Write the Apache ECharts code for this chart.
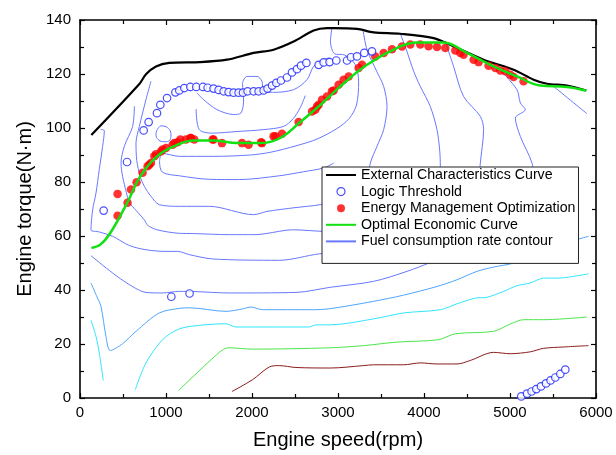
<!DOCTYPE html>
<html><head><meta charset="utf-8">
<script src="https://cdn.jsdelivr.net/npm/echarts@6/dist/echarts.min.js"></script>
<style>html,body{margin:0;padding:0;background:#fff}#c{width:616px;height:455px}</style>
</head><body><div id="c"></div><script>
// ---- axis settings ----
const xMin = 0, xMax = 6000, xStep = 1000;
const yMin = 0, yMax = 140, yStep = 20;
const xName = 'Engine speed(rpm)';
const yName = 'Engine torque(N·m)';
const legendNames = ['External Characteristics Curve','Logic Threshold','Energy Management Optimization','Optimal Economic Curve','Fuel consumption rate contour'];

// ---- main curves ----
const externalCurve = [[132,97.4],[690,116.3],[767,119.9],[883,122.8],[1038,124.1],[1399,124.4],[1709,125.3],[2019,127.8],[2251,129],[2484,132],[2716,136.1],[2872,137],[2949,137],[3221,136.7],[3414,135.4],[3724,134.9],[4112,133.3],[4344,130.2],[4693,125.3],[5042,121.6],[5275,117.9],[5430,116.4],[5663,115.7],[5887,113.9]];
const optimalCurve = [[132,55.6],[236,56.8],[352,61.1],[547,72.2],[701,82.1],[895,89.5],[1088,93.2],[1321,95.4],[1553,95.4],[1826,94.4],[2097,94.4],[2329,96.3],[2562,102.2],[2794,108.5],[3027,115.4],[3337,123.4],[3724,130.2],[3919,131.7],[4228,131.7],[4500,127.8],[4809,122.8],[5081,119.1],[5352,115.7],[5663,115.2],[5887,113.8]];
const energyOpt = [[437,67.5],[437,75.6],[553,72.3],[593,77.2],[658,79.9],[728,83.4],[786,85.8],[806,86.4],[825,87],[864,89.5],[883,90.3],[941,91.3],[960,92],[1000,92.6],[1077,93.8],[1097,94.4],[1135,94.7],[1166,95.7],[1232,95.7],[1283,96.3],[1291,96.3],[1329,95.7],[1542,95.7],[1553,95.7],[1651,94.4],[1884,94.4],[1960,93.8],[2105,94.7],[2116,94.4],[2251,96.9],[2271,96.9],[2349,97.9],[2542,102.2],[2698,106.1],[2736,106.8],[2756,108],[2775,108.6],[2814,110.5],[2872,111.7],[2930,113.6],[2949,113.9],[3007,116],[3065,117.9],[3124,119.1],[3240,122.2],[3279,123.4],[3434,126.5],[3531,127.8],[3628,129.2],[3744,130.2],[3841,130.9],[3957,130.9],[4053,130.3],[4151,130],[4248,129.6],[4364,128.7],[4422,127.8],[4460,127.1],[4577,125.3],[4635,124.4],[4751,123.1],[4829,122.2],[4887,121.3],[4945,121],[5003,119.7],[5042,118.9],[5158,117.3]];
const logicThreshold = [[275,69.4],[547,87.4],[740,99.1],[798,102.2],[895,105.5],[934,108.6],[1012,111.1],[1109,113.2],[1155,113.9],[1213,114.8],[1283,115.2],[1352,115.2],[1430,115.2],[1484,114.9],[1553,114.6],[1612,114.1],[1670,113.6],[1728,113.3],[1786,113.1],[1844,113.1],[1895,113.1],[1949,113.6],[2019,113.6],[2077,113.6],[2135,113.9],[2181,114.6],[2233,115.7],[2283,116.7],[2337,117.6],[2407,118.7],[2465,120.6],[2523,121.8],[2570,123.1],[2632,124.1],[2775,123.4],[2833,124.3],[2902,124.4],[2980,125],[3105,125],[3151,126.2],[3221,126.5],[3306,127.8],[3395,128.4],[1062,37.5],[1274,38.7],[5131,0.6],[5198,1.6],[5251,2.4],[5306,3.3],[5360,4.3],[5419,5.4],[5472,6.5],[5527,7.6],[5585,8.9],[5643,10.5]];

// ---- fuel consumption contours ----
const cB1 = [[240,99.5],[283,99],[263,93.2],[224,84.6],[186,75.9],[147,69.7],[128,62.3],[224,61.5],[379,59.9],[573,56.5],[767,54.9],[1000,54.3],[1135,54.3],[1271,53.1],[1542,51.5],[2317,51],[2783,53.4],[3015,53.7],[3300,57]];
const cB2 = [[633,108],[612,100.6],[515,93.2],[477,87],[495,82.1],[540,76],[573,72.5],[651,69.5],[748,66],[786,64],[895,62.3],[1155,61],[1321,60.9],[1736,60.5],[2047,60.5],[2163,60.9],[2472,62.3],[2872,61.7],[3050,63]];
const cB3 = [[825,117.3],[767,110.5],[690,100.6],[651,94.4],[660,88],[700,82],[748,78.4],[825,74.7],[922,71.6],[1155,71],[1503,71],[2019,67.9],[2174,69.1],[2500,70.5],[2794,71.6],[2950,73]];
const cB4 = [[2930,137.2],[2912,132],[2960,127.5],[3080,127],[3200,123.5],[3240,117],[3215,108.5],[3130,103.5],[2988,99.8],[2756,95.9],[2523,93.5],[2213,91],[1980,90],[1553,89.5],[1155,89.5],[960,90.6],[925,87.5],[960,83.6],[1155,82.3],[1503,81],[1852,80.9],[2317,82.3],[2600,83.8],[2833,85.2],[2950,87]];
const cB5 = [[1360,113],[1437,110.5],[1593,106.8],[1786,105],[1870,105.5],[1902,110],[1890,116.5],[1942,119.1],[2058,119.1],[2116,117.3],[2130,114],[2251,113.2],[2484,114.2],[2640,117.9],[2716,122.8],[2833,125.3],[2900,126]];
const cB6 = [[1350,107],[1387,99.4],[1542,98.1],[1826,98.7],[2135,99.4],[2368,100.6],[2480,103.5],[2560,107.5],[2620,112]];
const cLoop = [[900,99.5],[940,100.8],[1000,100.5],[1050,99],[1058,97],[1040,95.3],[990,94.9],[930,95.2],[890,96.5],[884,98],[900,99.5]];
const cR1 = [[3290,136.5],[3337,129],[3450,121],[3531,115.4],[3570,108],[3531,99.4],[3453,93.2],[3376,87],[3340,80]];
const cR2 = [[3724,135],[3800,128.5],[3880,121],[3957,115.4],[4073,108],[4151,99.4],[4182,91.9],[4190,85.8],[4190,80]];
const cR3 = [[4248,132.1],[4344,122.8],[4460,111.7],[4655,104.3],[4693,99.4],[4655,87],[4640,80]];
const cR4 = [[4867,122.2],[5081,114.2],[5120,109.3],[5178,106.8],[5062,103.7],[5120,96.9],[5256,87],[5280,80]];
const cR5 = [[5507,115.4],[5895,105.3]];
const cBlue40 = [[128,52.7],[379,46.3],[573,42],[767,39.1],[960,38.9],[1155,39.5],[1349,39.4],[1736,38.9],[2512,39.1],[2910,41],[3414,43.2],[3802,46.9],[4073,50.2],[4400,55],[4800,62]];
const cLightBlue = [[128,42.6],[190,38],[244,33.9],[302,22.8],[352,17.6],[495,20.1],[651,24.7],[922,31.5],[1155,33.2],[1271,33.4],[1698,32.1],[1891,33],[1988,33.7],[2123,32.7],[2705,32.7],[2910,33.1],[3414,35.8],[3763,38.1],[4151,41.3],[4384,43.8],[4616,46.9],[4809,48.5],[5042,50],[5400,55],[5914,59.9]];
const cCyanA = [[643,3.1],[767,13],[960,21.6],[1155,25.6],[1387,26.9],[1698,27.5],[1814,26.3],[2666,26.3],[2744,27.1],[2910,27.1],[3414,29.3],[3763,31.5],[4190,32.7],[4384,34.9],[4597,37],[4733,37.3],[4926,39.5],[5081,41.6],[5236,42.6],[5391,44.4],[5547,44.4],[5914,46]];
const cCyanB = [[128,28.8],[186,22.8],[224,16.7],[271,6.5]];
const cGreen = [[1147,2.8],[1620,16.9],[1724,18.6],[2007,18.1],[2910,18.6],[3298,19.4],[3686,20.7],[4170,21.6],[4364,23.8],[4809,24.7],[5003,27.4],[5158,29],[5391,29],[5895,30]];
const cRed = [[1767,2.4],[2007,6.8],[2201,11.5],[2317,12],[2511,11.3],[2910,11.1],[3298,12],[3414,12.3],[3763,12.3],[3957,13],[4151,12.6],[4384,12.6],[4538,13.9],[4809,16.9],[5003,16.4],[5236,17.1],[5391,18.4],[5623,18.9],[5914,19.4]];

const contourBlue = '#6878ff', contourLB = '#4ea6ff', contourCyan = '#30e6ff', contourGreen = '#4ae64a', contourRed = '#8b1c1c';
const contours = [
  [cB1, contourBlue],[cB2, contourBlue],[cB3, contourBlue],[cB4, contourBlue],[cB5, contourBlue],[cB6, contourBlue],[cLoop, contourBlue],
  [cR1, contourBlue],[cR2, contourBlue],[cR3, contourBlue],[cR4, contourBlue],[cR5, contourBlue],[cBlue40, contourBlue],
  [cLightBlue, contourLB],[cCyanA, contourCyan],[cCyanB, contourCyan],[cGreen, contourGreen],[cRed, contourRed]
];

const font = 'Arial, "Liberation Sans", sans-serif';
const chart = echarts.init(document.getElementById('c'), null, {renderer:'canvas'});
const plainNum = v => String(v);

function axisCommon(showLabel, margin){
  return {
    axisLine:{show:true, onZero:false, lineStyle:{color:'#000', width:1.6}},
    axisTick:{show:true, inside:true, length:5, lineStyle:{color:'#000', width:1.2}},
    minorTick:{show:true, splitNumber:2, length:4, lineStyle:{color:'#000', width:1.2}},
    splitLine:{show:false},
    axisLabel:{show:showLabel, color:'#000', fontSize:15, fontFamily:font, margin:margin||8, formatter:plainNum}
  };
}

const series = [];
contours.forEach(([d,c]) => {
  series.push({name:legendNames[4], type:'line', data:d, showSymbol:false, symbol:'none', smooth:0.3,
    lineStyle:{color:c, width:1}, itemStyle:{color:c}, silent:true, z:2});
});
series.push({name:legendNames[0], type:'line', data:externalCurve, symbol:'none', smooth:0.3,
  lineStyle:{color:'#000', width:2.2}, itemStyle:{color:'#000'}, z:3});
series.push({name:legendNames[2], type:'scatter', data:energyOpt, symbol:'circle', symbolSize:8.5,
  itemStyle:{color:'#ff0000'}, z:4});
series.push({name:legendNames[3], type:'line', data:optimalCurve, symbol:'none', smooth:0.4,
  lineStyle:{color:'#11e011', width:2.5}, itemStyle:{color:'#11e011'}, z:5});
series.push({name:legendNames[1], type:'scatter', data:logicThreshold, symbol:'circle', symbolSize:7.5,
  itemStyle:{color:'#ffffff', borderColor:'#1a22ff', borderWidth:1.2}, z:6});

const hiddenSym = {color:'rgba(0,0,0,0)', borderColor:'rgba(0,0,0,0)', borderWidth:0, opacity:0};

chart.setOption({
  animation:false,
  backgroundColor:'#fff',
  grid:{left:80, right:20, top:20, bottom:57, outerBoundsMode:'none'},
  xAxis:[
    Object.assign({type:'value', position:'bottom', min:xMin, max:xMax, interval:xStep,
      name:xName, nameLocation:'middle', nameGap:32,
      nameTextStyle:{color:'#000', fontSize:20, fontFamily:font}}, axisCommon(true, 7)),
    Object.assign({type:'value', position:'top', min:xMin, max:xMax, interval:xStep}, axisCommon(false))
  ],
  yAxis:[
    Object.assign({type:'value', position:'left', min:yMin, max:yMax, interval:yStep,
      name:yName, nameLocation:'middle', nameGap:45,
      nameTextStyle:{color:'#000', fontSize:20, fontFamily:font}}, axisCommon(true, 9)),
    Object.assign({type:'value', position:'right', min:yMin, max:yMax, interval:yStep}, axisCommon(false))
  ],
  legend:{
    data:[
      {name:legendNames[0], itemStyle:hiddenSym},
      {name:legendNames[1], itemStyle:{color:'#ffffff', borderColor:'#1a22ff', borderWidth:1.2}},
      {name:legendNames[2]},
      {name:legendNames[3], itemStyle:hiddenSym},
      {name:legendNames[4], itemStyle:hiddenSym}
    ],
    orient:'vertical', left:322, top:167,
    backgroundColor:'#fff', borderColor:'#222', borderWidth:1,
    padding:[1,3,15,3], itemWidth:30, itemHeight:8, itemGap:2.6,
    textStyle:{color:'#000', fontSize:14.2, fontFamily:font, lineHeight:14},
    selectedMode:false, z:10
  },
  series:series
});
</script></body></html>
